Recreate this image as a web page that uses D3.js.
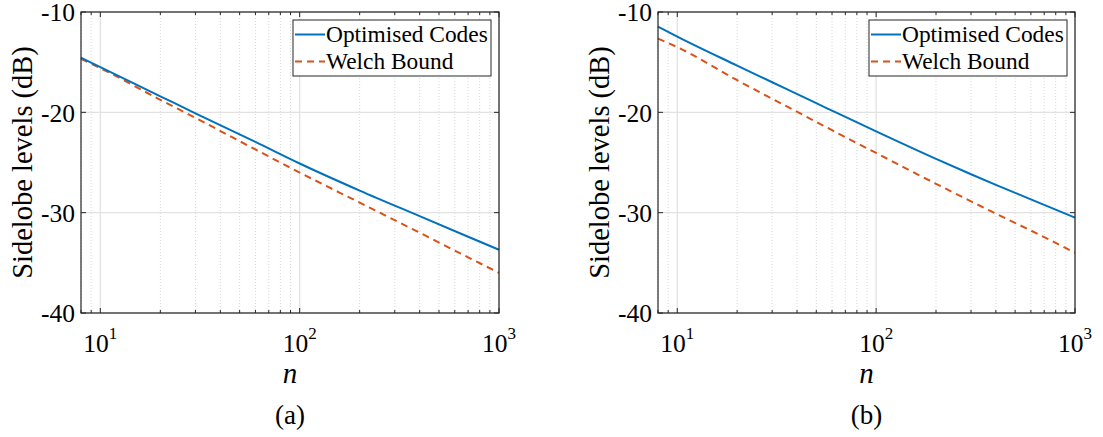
<!DOCTYPE html>
<meta charset="utf-8">
<script src="https://d3js.org/d3.v7.min.js"></script>
<style>
  body { margin: 0; background: #fff; }
  text { font-family: "Liberation Serif", "Times New Roman", Times, serif; fill: #000; }
</style>
<body>
<div id="my_dataviz"></div>
<script>
// values (dB)
var nValsA = [8, 10, 20, 30, 60, 100, 200, 400, 700, 1000];
var optA   = [-14.55, -15.5, -18.4, -20.1, -22.95, -25.1, -27.8, -30.35, -32.4, -33.7];
var welchA = [-14.68, -15.6, -18.75, -20.55, -23.7, -26.0, -29.0, -32.0, -34.45, -36.0];

var nValsB = [8, 10, 20, 30, 50, 60, 100, 200, 300, 400, 600, 1000];
var optB   = [-11.45, -12.45, -15.34, -17.0, -19.09, -19.83, -21.9, -24.64, -26.17, -27.23, -28.67, -30.5];
var welchB = [-12.65, -13.5, -16.8, -18.65, -20.95, -21.78, -24.05, -27.12, -28.87, -30.1, -31.78, -34.0];

var seriesNames = ["Optimised Codes", "Welch Bound"];
var panelLabels = ["(a)", "(b)"];
var yTicks = [-10, -20, -30, -40];
var xMajor = [10, 100, 1000];
var xMinor = [8, 9, 20, 30, 40, 50, 60, 70, 80, 90, 200, 300, 400, 500, 600, 700, 800, 900];

var colors = ["#0072BD", "#D95319"];
var axisColor = "#262626";

var svg = d3.select("#my_dataviz")
  .append("svg")
    .attr("width", 1103)
    .attr("height", 437);

function drawPanel(left, right, nVals, opt, welch, label) {
  var top = 12, bottom = 313;
  var x = d3.scaleLog().domain([8, 1000]).range([left, right]);
  var y = d3.scaleLinear().domain([-40, -10]).range([bottom, top]);
  var g = svg.append("g");

  // minor grid (dotted)
  g.selectAll(".minorgrid").data(xMinor).enter().append("line")
    .attr("x1", function(d) { return x(d); }).attr("x2", function(d) { return x(d); })
    .attr("y1", top).attr("y2", bottom)
    .attr("stroke", "#d9d9d9").attr("stroke-width", 1)
    .attr("stroke-dasharray", "1,2");
  // major grid
  g.selectAll(".xgrid").data(xMajor).enter().append("line")
    .attr("x1", function(d) { return x(d); }).attr("x2", function(d) { return x(d); })
    .attr("y1", top).attr("y2", bottom)
    .attr("stroke", "#e2e2e2").attr("stroke-width", 1.3);
  g.selectAll(".ygrid").data(yTicks).enter().append("line")
    .attr("x1", left).attr("x2", right)
    .attr("y1", function(d) { return y(d); }).attr("y2", function(d) { return y(d); })
    .attr("stroke", "#e2e2e2").attr("stroke-width", 1.3);

  // curves
  var line = d3.line()
    .x(function(d) { return x(d[0]); })
    .y(function(d) { return y(d[1]); })
    .curve(d3.curveMonotoneX);
  g.append("path")
    .datum(nVals.map(function(n, i) { return [n, welch[i]]; }))
    .attr("d", line).attr("fill", "none")
    .attr("stroke", colors[1]).attr("stroke-width", 2)
    .attr("stroke-dasharray", "7,5");
  g.append("path")
    .datum(nVals.map(function(n, i) { return [n, opt[i]]; }))
    .attr("d", line).attr("fill", "none")
    .attr("stroke", colors[0]).attr("stroke-width", 2);

  // ticks inside the box, on all four sides
  var tickG = g.append("g").attr("stroke", axisColor).attr("stroke-width", 1);
  xMajor.concat(xMinor).forEach(function(d) {
    var len = xMajor.indexOf(d) >= 0 ? 5 : 3;
    tickG.append("line").attr("x1", x(d)).attr("x2", x(d)).attr("y1", bottom).attr("y2", bottom - len);
    tickG.append("line").attr("x1", x(d)).attr("x2", x(d)).attr("y1", top).attr("y2", top + len);
  });
  yTicks.forEach(function(d) {
    tickG.append("line").attr("x1", left).attr("x2", left + 5).attr("y1", y(d)).attr("y2", y(d));
    tickG.append("line").attr("x1", right).attr("x2", right - 5).attr("y1", y(d)).attr("y2", y(d));
  });

  // box
  g.append("rect")
    .attr("x", left).attr("y", top)
    .attr("width", right - left).attr("height", bottom - top)
    .attr("fill", "none").attr("stroke", axisColor).attr("stroke-width", 1.2);

  // y tick labels
  g.selectAll(".ylab").data(yTicks).enter().append("text")
    .attr("x", left - 6)
    .attr("y", function(d) { return y(d); })
    .attr("dy", "0.36em")
    .attr("text-anchor", "end")
    .style("font-size", "25.5px")
    .text(function(d) { return d; });

  // x tick labels with exponents
  xMajor.forEach(function(d) {
    var t = g.append("text")
      .attr("x", x(d)).attr("y", 352)
      .attr("text-anchor", "middle")
      .style("font-size", "25.5px");
    t.append("tspan").text("10");
    t.append("tspan").attr("dy", -13).style("font-size", "17px")
      .text(String(Math.round(Math.log10(d))));
  });

  var cx = (left + right) / 2;
  g.append("text")
    .attr("x", cx).attr("y", 383)
    .attr("text-anchor", "middle")
    .style("font-size", "29px").style("font-style", "italic")
    .text("n");
  g.append("text")
    .attr("x", cx).attr("y", 424)
    .attr("text-anchor", "middle")
    .style("font-size", "27px")
    .text(label);

  g.append("text")
    .attr("transform", "translate(" + (left - 49) + "," + ((top + bottom) / 2) + ") rotate(-90)")
    .attr("text-anchor", "middle")
    .style("font-size", "28.5px")
    .text("Sidelobe levels (dB)");

  // legend
  var lx = right - 206, ly = 20, lw = 198, lh = 56;
  var leg = g.append("g");
  leg.append("rect")
    .attr("x", lx).attr("y", ly).attr("width", lw).attr("height", lh)
    .attr("fill", "#fff").attr("stroke", axisColor).attr("stroke-width", 1);
  var rows = [ly + 14.5, ly + 41.5];
  seriesNames.forEach(function(name, i) {
    leg.append("line")
      .attr("x1", lx + 2).attr("x2", lx + 32)
      .attr("y1", rows[i]).attr("y2", rows[i])
      .attr("stroke", colors[i]).attr("stroke-width", 2)
      .attr("stroke-dasharray", i === 1 ? "7,5" : null);
    leg.append("text")
      .attr("x", lx + 33).attr("y", rows[i])
      .attr("dy", "0.33em")
      .style("font-size", "23.4px")
      .text(name);
  });
}

drawPanel(81, 499, nValsA, optA, welchA, panelLabels[0]);
drawPanel(658, 1075, nValsB, optB, welchB, panelLabels[1]);
</script>
</body>
